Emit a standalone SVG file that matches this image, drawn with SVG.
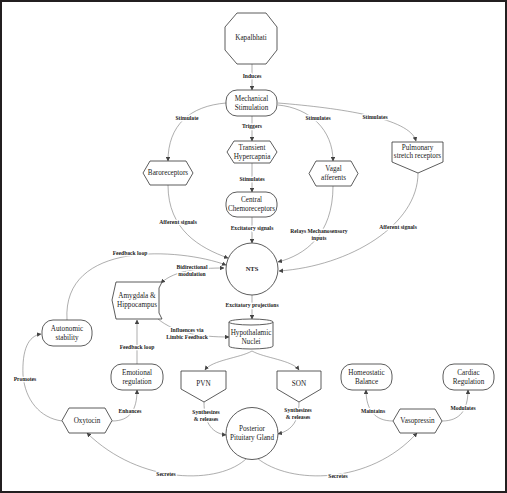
<svg xmlns="http://www.w3.org/2000/svg" width="507" height="493" viewBox="0 0 507 493">
<defs>
<marker id="ah" viewBox="0 0 10 10" refX="9" refY="5" markerWidth="4.5" markerHeight="4.5" markerUnits="userSpaceOnUse" orient="auto-start-reverse">
<path d="M0,0 L10,5 L0,10 Z" fill="#444"/>
</marker>
<style>
.n{fill:#fff;stroke:#333;stroke-width:0.8}
.t{font-family:"Liberation Serif",serif;font-size:7.2px;fill:#222;text-anchor:middle;dominant-baseline:central}
.e{fill:none;stroke:#777;stroke-width:0.6;marker-end:url(#ah)}
.l{font-family:"Liberation Serif",serif;font-size:5.6px;font-weight:bold;fill:#222;text-anchor:middle;dominant-baseline:central;stroke:#fff;stroke-width:2.5;paint-order:stroke}
</style>
</defs>
<rect x="0" y="0" width="507" height="493" fill="#fff"/>
<rect x="1" y="1" width="505" height="491" fill="none" stroke="#231f20" stroke-width="2"/>

<g id="connectors">
<path class="e" d="M252,64 L252,90"/>
<path class="e" d="M226,103 C190,106 168,125 168,161"/>
<path class="e" d="M252,116 L252,141"/>
<path class="e" d="M278,105 C310,108 333,130 333,161"/>
<path class="e" d="M278,103 C340,108 410,118 416,141"/>
<path class="e" d="M252,163 L252,192"/>
<path class="e" d="M168,185 C168,230 200,248 228,258"/>
<path class="e" d="M252,217 L252,243"/>
<path class="e" d="M333,186 C333,235 305,255 278,262"/>
<path class="e" d="M418,173 C418,225 350,266 279,271"/>
<path class="e" d="M67,320 C62,240 180,248 226,265"/>
<path class="e" d="M224,268 C200,268 175,270 161,283" style="marker-start:url(#ah)"/>
<path class="e" d="M252,295 L252,319"/>
<path class="e" d="M158,319 C175,333 200,337 229,337"/>
<path class="e" d="M137,364 L137,320"/>
<path class="e" d="M252,351 C240,358 212,360 205,370"/>
<path class="e" d="M252,351 C264,358 292,360 299,370"/>
<path class="e" d="M204,402 C204,420 210,433 226,435"/>
<path class="e" d="M299,402 C299,420 293,430 278,434"/>
<path class="e" d="M247,458 C220,485 140,485 87,433"/>
<path class="e" d="M257,458 C290,485 370,485 417,433"/>
<path class="e" d="M112,421 C130,421 137,410 137,390"/>
<path class="e" d="M62,421 C40,418 25,400 23,375 C22,350 28,336 41,334"/>
<path class="e" d="M393,421 C375,421 366,410 366,390"/>
<path class="e" d="M442,421 C460,421 468,410 468,390"/>
</g>

<g id="edge-labels">
<text class="l" x="252" y="76">Induces</text>
<text class="l" x="187" y="118">Stimulate</text>
<text class="l" x="252" y="126">Triggers</text>
<text class="l" x="318" y="118">Stimulates</text>
<text class="l" x="375" y="117">Stimulates</text>
<text class="l" x="252" y="179">Stimulates</text>
<text class="l" x="178" y="222">Afferent signals</text>
<text class="l" x="252" y="228">Excitatory signals</text>
<text class="l" x="319" y="231">Relays Mechanosensory</text>
<text class="l" x="319" y="238">inputs</text>
<text class="l" x="398" y="227">Afferent signals</text>
<text class="l" x="130" y="253">Feedback loop</text>
<text class="l" x="192" y="267">Bidirectional</text>
<text class="l" x="192" y="274">modulation</text>
<text class="l" x="252" y="305">Excitatory projections</text>
<text class="l" x="187" y="330">Influences via</text>
<text class="l" x="187" y="337">Limbic Feedback</text>
<text class="l" x="137" y="347">Feedback loop</text>
<text class="l" x="25" y="379">Promotes</text>
<text class="l" x="130" y="411">Enhances</text>
<text class="l" x="206" y="412">Synthesizes</text>
<text class="l" x="206" y="419">&amp; releases</text>
<text class="l" x="298" y="410">Synthesizes</text>
<text class="l" x="298" y="417">&amp; releases</text>
<text class="l" x="373" y="411">Maintains</text>
<text class="l" x="463" y="408">Modulates</text>
<text class="l" x="166" y="474">Secretes</text>
<text class="l" x="338" y="476">Secretes</text>
</g>

<g id="kapalbhati">
<polygon class="n" points="237,13 266,13 277,27 277,50 266,64 237,64 225,50 225,27"/>
<text class="t" x="251" y="38">Kapalbhati</text>
</g>
<g id="mechanical-stimulation">
<rect class="n" x="226" y="90" width="51" height="26" rx="11"/>
<text class="t" x="251.5" y="98.5">Mechanical</text>
<text class="t" x="251.5" y="107.5">Stimulation</text>
</g>
<g id="transient-hypercapnia">
<polygon class="n" points="234,141 270,141 277,152 270,163 234,163 227,152"/>
<text class="t" x="252" y="147.5">Transient</text>
<text class="t" x="252" y="156.5">Hypercapnia</text>
</g>
<g id="baroreceptors">
<polygon class="n" points="150,161 186,161 193,173 186,185 150,185 143,173"/>
<text class="t" x="168" y="173">Baroreceptors</text>
</g>
<g id="vagal-afferents">
<polygon class="n" points="316,161 351,161 358,173.5 351,186 316,186 309,173.5"/>
<text class="t" x="333.5" y="169">Vagal</text>
<text class="t" x="333.5" y="178">afferents</text>
</g>
<g id="pulmonary-stretch-receptors">
<polygon class="n" points="392,142 443,142 443,162 418,173 392,162"/>
<text class="t" x="417.5" y="147.5">Pulmonary</text>
<text class="t" x="417.5" y="156">stretch receptors</text>
</g>
<g id="central-chemoreceptors">
<rect class="n" x="226" y="192" width="51" height="25" rx="11"/>
<text class="t" x="251.5" y="200">Central</text>
<text class="t" x="251.5" y="209">Chemoreceptors</text>
</g>
<g id="nts">
<circle class="n" cx="252" cy="269" r="26"/>
<text class="t" x="252" y="268" style="font-weight:bold;font-size:6.5px">NTS</text>
</g>
<g id="amygdala-hippocampus">
<polygon class="n" points="116,282 162,282 159,288 159,313 162,319 116,319 112,300"/>
<text class="t" x="137" y="296">Amygdala &amp;</text>
<text class="t" x="137" y="305">Hippocampus</text>
</g>
<g id="hypothalamic-nuclei">
<path class="n" d="M229,322 L229,346 A22,3 0 0 0 273,346 L273,322 A22,3 0 0 0 229,322 Z"/>
<path class="n" d="M229,322 A22,3 0 0 0 273,322" fill="none"/>
<text class="t" x="251" y="333">Hypothalamic</text>
<text class="t" x="251" y="342">Nuclei</text>
</g>
<g id="autonomic-stability">
<rect class="n" x="42" y="320" width="50" height="26" rx="11"/>
<text class="t" x="67" y="328.5">Autonomic</text>
<text class="t" x="67" y="337.5">stability</text>
</g>
<g id="emotional-regulation">
<rect class="n" x="111" y="364" width="52" height="26" rx="11"/>
<text class="t" x="137" y="372.5">Emotional</text>
<text class="t" x="137" y="381.5">regulation</text>
</g>
<g id="pvn">
<polygon class="n" points="181,371 226,371 226,389 204,402 181,389"/>
<text class="t" x="203.5" y="384">PVN</text>
</g>
<g id="son">
<polygon class="n" points="277,371 321,371 321,389 299,402 277,389"/>
<text class="t" x="299" y="384">SON</text>
</g>
<g id="homeostatic-balance">
<rect class="n" x="341" y="364" width="51" height="26" rx="11"/>
<text class="t" x="366.5" y="372.5">Homeostatic</text>
<text class="t" x="366.5" y="381.5">Balance</text>
</g>
<g id="cardiac-regulation">
<rect class="n" x="443" y="364" width="51" height="26" rx="11"/>
<text class="t" x="468.5" y="372.5">Cardiac</text>
<text class="t" x="468.5" y="381.5">Regulation</text>
</g>
<g id="oxytocin">
<polygon class="n" points="69,408 105,408 112,420.5 105,433 69,433 62,420.5"/>
<text class="t" x="87" y="420.5">Oxytocin</text>
</g>
<g id="posterior-pituitary-gland">
<circle class="n" cx="252" cy="433.5" r="26"/>
<text class="t" x="252" y="429">Posterior</text>
<text class="t" x="252" y="438">Pituitary Gland</text>
</g>
<g id="vasopressin">
<polygon class="n" points="400,409 435,409 442,421 435,433 400,433 393,421"/>
<text class="t" x="417.5" y="421">Vasopressin</text>
</g>
</svg>
